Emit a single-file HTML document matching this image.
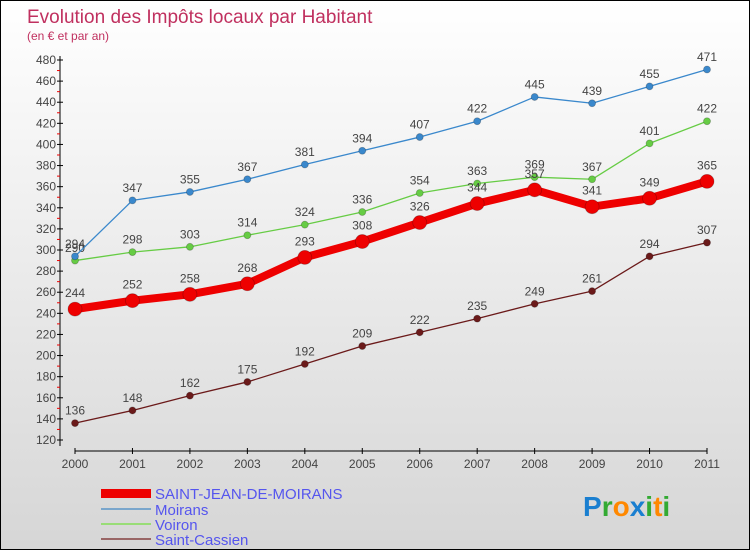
<!DOCTYPE html>
<html><head><meta charset="utf-8"><style>
html,body{margin:0;padding:0}
body{width:750px;height:550px;overflow:hidden;font-family:"Liberation Sans",sans-serif}
#wrap{position:relative;width:748px;height:548px;border:1px solid #000;background:linear-gradient(#ffffff,#d6d6d6)}
</style></head><body>
<div id="wrap">
<svg id="chart" width="748" height="548">
<text x="26" y="22" font-size="19" fill="#c0305f">Evolution des Impôts locaux par Habitant</text>
<text x="26" y="39" font-size="12" fill="#c0305f">(en € et par an)</text>
<g id="axes"></g><g id="series"></g>
<g>
<rect x="100" y="488" width="50" height="9" fill="#e00"/>
<text x="154" y="498" font-size="15" fill="#5555ee">SAINT-JEAN-DE-MOIRANS</text>
<rect x="100" y="507" width="50" height="2" fill="#7aa6cc"/>
<text x="154" y="514" font-size="15" fill="#5555ee">Moirans</text>
<rect x="100" y="522" width="50" height="2" fill="#99dd77"/>
<text x="154" y="529" font-size="15" fill="#5555ee">Voiron</text>
<rect x="100" y="537" width="50" height="2" fill="#996666"/>
<text x="154" y="544" font-size="15" fill="#5555ee">Saint-Cassien</text>
</g>
<text x="582" y="515" font-size="28" font-weight="bold"><tspan fill="#1a7fd0">P</tspan><tspan fill="#33aa33">r</tspan><tspan fill="#ff8800">o</tspan><tspan fill="#1a7fd0">x</tspan><tspan fill="#33aa33">i</tspan><tspan fill="#ff8800">t</tspan><tspan fill="#33aa33">i</tspan></text>
</svg></div>
<script>
const years=["2000","2001","2002","2003","2004","2005","2006","2007","2008","2009","2010","2011"];
const yTicks=[120,140,160,180,200,220,240,260,280,300,320,340,360,380,400,420,440,460,480];
const sjm=[244,252,258,268,293,308,326,344,357,341,349,365];
const moirans=[294,347,355,367,381,394,407,422,445,439,455,471];
const voiron=[290,298,303,314,324,336,354,363,369,367,401,422];
const cassien=[136,148,162,175,192,209,222,235,249,261,294,307];
const NS="http://www.w3.org/2000/svg";
const X=i=>74+i*(632/11);
const Y=v=>59+(480-v)*(380/360);
function mk(t,a,p){const e=document.createElementNS(NS,t);for(const k in a)e.setAttribute(k,a[k]);p.appendChild(e);return e;}
const ax=document.getElementById('axes');
const yl=mk('line',{x1:59,y1:55,x2:59,y2:445,stroke:'#000'},ax);


yTicks.forEach(v=>{
 mk('line',{x1:56,x2:62,y1:Y(v),y2:Y(v),stroke:'#000'},ax);
 if(v<480) mk('line',{x1:56,x2:59,y1:Y(v+10),y2:Y(v+10),stroke:'#e00'},ax);
 const t=mk('text',{x:55,y:Y(v)+4,'font-size':12,fill:'#444','text-anchor':'end'},ax);t.textContent=v;
 
 
});
const xl=mk('line',{x1:74,y1:450,x2:706,y2:450,stroke:'#000'},ax);


years.forEach((y,i)=>{
 mk('line',{x1:X(i),x2:X(i),y1:447,y2:453,stroke:'#000'},ax);
 const t=mk('text',{x:X(i),y:467,'font-size':12,fill:'#444','text-anchor':'middle'},ax);t.textContent=y;
 
 
});
const sg=document.getElementById('series');
function draw(vals,color,w,r,name){
 const g=mk('g',{},sg);
 
 
 mk('polyline',{points:vals.map((v,i)=>X(i)+','+Y(v)).join(' '),fill:'none',stroke:color,'stroke-width':w,'stroke-linejoin':'round'},g);
 vals.forEach((v,i)=>{
  const c=mk('circle',{cx:X(i),cy:Y(v),r:r,fill:color,stroke:'rgba(0,0,0,0.25)','stroke-width':0.8},g);
  
  
  const t=mk('text',{x:X(i),y:Y(v)-8-(r-3),'font-size':12,fill:'#444','text-anchor':'middle'},g);t.textContent=v;
  
  
 });
}
draw(cassien,'#6b1a1a',1.3,3.5,'series-saint-cassien');
draw(voiron,'#66cc44',1.3,3.5,'series-voiron');
draw(moirans,'#3a88cc',1.3,3.5,'series-moirans');
draw(sjm,'#ee0000',8,7,'series-saint-jean-de-moirans');
</script>
</body></html>
